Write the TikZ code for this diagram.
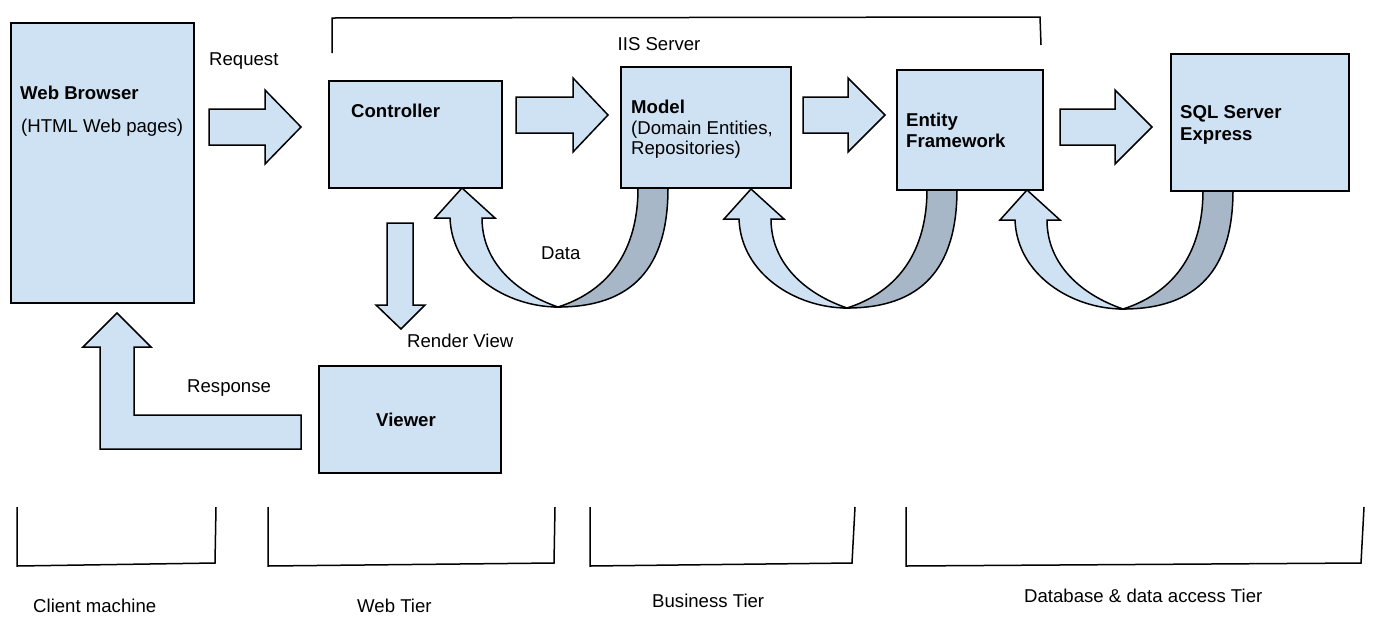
\documentclass[tikz,border=0pt]{standalone}
\usepackage{fontspec}
\setmainfont{Liberation Sans}
\definecolor{paleblue}{HTML}{CFE2F3}
\definecolor{shadeblue}{HTML}{A7B7C7}
\tikzset{
  tierbox/.style={draw=black, fill=paleblue, line width=1.5pt, anchor=north west, inner sep=0pt},
  blockarrow/.style={draw=black, fill=paleblue, line width=1.5pt},
  txt/.style={font=\fontsize{18.6}{22}\selectfont, inner sep=0pt, anchor=base west},
  brace/.style={draw=black, line width=1.5pt},
  databack/.pic={
    \draw [blockarrow, fill=shadeblue] (176,-3) -- (176,0) .. controls (176,70) and (140,105) .. (96,119)
          .. controls (170,119) and (206,80) .. (206,0) -- (206,-3);
    \draw [blockarrow] (-27,30) -- (0,0) -- (33,30) -- (20,30) .. controls (20,75) and (55,105) .. (96,119)
          .. controls (45,119) and (-10,85) .. (-12,30) -- cycle;
  }
}
\begin{document}
\begin{tikzpicture}[x=1pt, y=-1pt]
    \useasboundingbox (0,0) rectangle (1383,630);

    % curved return arrows (under the boxes)
    \pic (back1) at (462,188) {databack};
    \pic (back2) at (751,189) {databack};
    \pic (back3) at (1027,190) {databack};

    \node [tierbox, minimum width=183pt, minimum height=280pt] (browser) at (10,22) {};
    \node [tierbox, minimum width=173pt, minimum height=107pt] (ctrl) at (328,80) {};
    \node [tierbox, minimum width=170pt, minimum height=121pt] (model) at (620,66) {};
    \node [tierbox, minimum width=146pt, minimum height=120pt] (ef) at (896,69) {};
    \node [tierbox, minimum width=178pt, minimum height=137pt] (sql) at (1170,53) {};
    \node [tierbox, minimum width=182pt, minimum height=107pt] (viewer) at (318,365) {};

    % straight block arrows
    \foreach \xa/\xb/\xc/\yc in {209/265/301/127, 516/573/608/115, 803/848/885/115, 1060/1115/1152/127}
        \draw [blockarrow] (\xa,\yc-18) -- (\xb,\yc-18) -- (\xb,\yc-37) -- (\xc,\yc)
              -- (\xb,\yc+37) -- (\xb,\yc+18) -- (\xa,\yc+18) -- cycle;
    \draw [blockarrow] (387,223) -- (413,223) -- (413,305) -- (425,305) -- (401,329)
          -- (376,305) -- (387,305) -- cycle;
    \draw [blockarrow] (301,415) -- (134,415) -- (134,347) -- (151,347) -- (117,313)
          -- (83,347) -- (100,347) -- (100,449) -- (301,449) -- cycle;

    % box texts
    \node [txt] (browsert) at (20,99) {\bfseries Web Browser};
    \node [txt] (browsers) at (21,132) {(HTML Web pages)};
    \node [txt] (ctrlt) at (351,117) {\bfseries Controller};
    \node [txt] (modelt) at (631,113) {\bfseries Model};
    \node [txt] (models1) at (631,134) {(Domain Entities,};
    \node [txt] (models2) at (631,154) {Repositories)};
    \node [txt] (eft1) at (906,126) {\bfseries Entity};
    \node [txt] (eft2) at (906,147) {\bfseries Framework};
    \node [txt] (sqlt1) at (1180,118) {\bfseries SQL Server};
    \node [txt] (sqlt2) at (1180,140) {\bfseries Express};
    \node [txt, anchor=base] (viewert) at (406,426) {\bfseries Viewer};

    % arrow labels
    \node [txt] (req) at (209,65) {Request};
    \node [txt] (resp) at (187,392) {Response};
    \node [txt] (render) at (407,347) {Render View};
    \node [txt] (data) at (541,259) {Data};

    % tier brackets
    \draw [brace] (332,53) -- (332,18) -- (1040,17) -- (1041,45);
    \node [txt, anchor=base] (iis) at (659,50) {IIS Server};
    \draw [brace] (17,507) -- (17,566) -- (215,563) -- (216,507);
    \draw [brace] (268,507) -- (268,566) -- (554,563) -- (555,507);
    \draw [brace] (590,507) -- (590,566) -- (852,563) -- (855,507);
    \draw [brace] (906,507) -- (906,566) -- (1361,563) -- (1364,507);
    \node [txt] (client) at (33,612) {Client machine};
    \node [txt] (webtier) at (357,612) {Web Tier};
    \node [txt] (bustier) at (652,607) {Business Tier};
    \node [txt] (dbtier) at (1024,602) {Database \& data access Tier};
\end{tikzpicture}
\end{document}
